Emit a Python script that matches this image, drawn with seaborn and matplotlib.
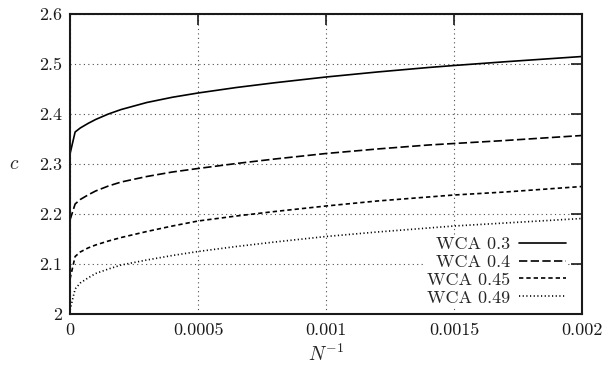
import numpy as np
import pandas as pd
import matplotlib
matplotlib.use('Agg')
import matplotlib.pyplot as plt
import seaborn as sns

sns.set_theme(style='white')
plt.rcParams['font.family'] = ['cmr10', 'DejaVu Serif']
plt.rcParams['mathtext.fontset'] = 'cm'
plt.rcParams['axes.formatter.use_mathtext'] = True

# N^-1 sample points and c values
inv_n = [0, 0.00002, 0.00004, 0.00007, 0.0001, 0.00015, 0.0002, 0.0003, 0.0004,
         0.0005, 0.00065, 0.0008, 0.001, 0.0012, 0.0014, 0.0015, 0.0017, 0.002]
wca_03 = [2.320, 2.364, 2.372, 2.381, 2.389, 2.400, 2.409, 2.423, 2.4335,
          2.442, 2.453, 2.4625, 2.474, 2.484, 2.493, 2.497, 2.5045, 2.515]
wca_04 = [2.188, 2.220, 2.229, 2.238, 2.246, 2.256, 2.264, 2.275, 2.284,
          2.291, 2.301, 2.310, 2.321, 2.330, 2.338, 2.341, 2.347, 2.357]
wca_045 = [2.070, 2.115, 2.124, 2.132, 2.138, 2.146, 2.153, 2.165, 2.176,
           2.186, 2.196, 2.205, 2.216, 2.226, 2.234, 2.238, 2.244, 2.255]
wca_049 = [2.008, 2.050, 2.062, 2.072, 2.081, 2.090, 2.098, 2.108, 2.117,
           2.125, 2.135, 2.144, 2.155, 2.164, 2.172, 2.176, 2.182, 2.191]

labels = ['WCA 0.3', 'WCA 0.4', 'WCA 0.45', 'WCA 0.49']
xticks = [0, 0.0005, 0.001, 0.0015, 0.002]
xtick_labels = ['0', '0.0005', '0.001', '0.0015', '0.002']
yticks = [2.0, 2.1, 2.2, 2.3, 2.4, 2.5, 2.6]
ytick_labels = ['2', '2.1', '2.2', '2.3', '2.4', '2.5', '2.6']

styles = ['-', (0, (5, 2)), (0, (2.6, 1.8)), (0, (0.7, 1.5))]

fig = plt.figure(figsize=(6.05, 3.74), dpi=100)
ax = fig.add_axes([70 / 605, 1 - 314 / 374, 512 / 605, 300 / 374])

for vals, lab, ls in zip([wca_03, wca_04, wca_045, wca_049], labels, styles):
    df = pd.DataFrame({'x': inv_n, 'c': vals})
    sns.lineplot(data=df, x='x', y='c', ax=ax, color='black', lw=1.2,
                 linestyle=ls, label=lab)

ax.set_xlim(0, 0.002)
ax.set_ylim(2.0, 2.6)
ax.set_xticks(xticks)
ax.set_xticklabels(xtick_labels)
ax.set_yticks(yticks)
ax.set_yticklabels(ytick_labels)

ax.grid(True, color='0.3', linestyle=(0, (1, 3)), lw=0.8)
for s in ax.spines.values():
    s.set_linewidth(1.5)
    s.set_color('0.1')
ax.tick_params(direction='in', length=8, width=1.2, top=True, right=True,
               labelsize=13, colors='0.1', pad=6)

ax.set_xlabel('$N^{-1}$', fontsize=14)
ax.xaxis.set_label_coords(0.5, -0.10)
ax.set_ylabel('$c$', fontsize=14, rotation=0, ha='center', va='center')
ax.yaxis.set_label_coords(-0.109, 0.5)

leg = ax.legend(loc='lower right', bbox_to_anchor=(0.972, 0.022), borderaxespad=0,
                markerfirst=False, frameon=True, facecolor='white', edgecolor='none',
                framealpha=1, fancybox=False, fontsize=13, handlelength=2.6,
                handletextpad=0.5, labelspacing=0.12, borderpad=0.1)

fig.savefig('out.png', dpi=100)
